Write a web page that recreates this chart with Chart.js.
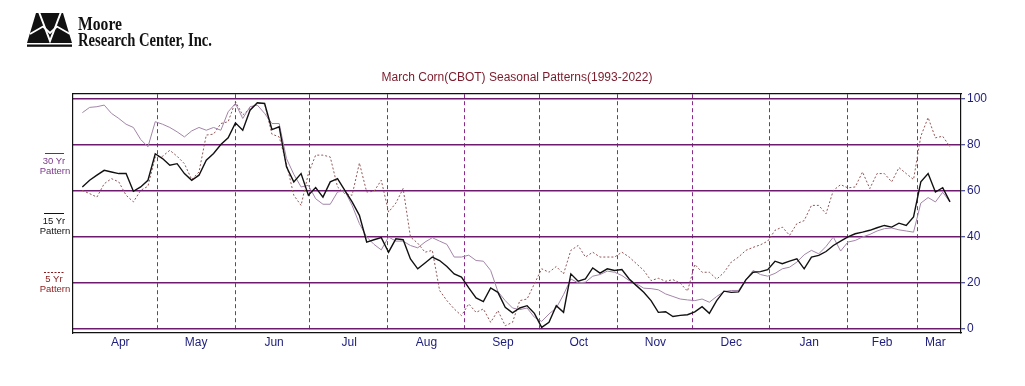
<!DOCTYPE html>
<html>
<head>
<meta charset="utf-8">
<title>March Corn(CBOT) Seasonal Patterns</title>
<script src="https://cdn.jsdelivr.net/npm/chart.js@4.4.1/dist/chart.umd.min.js"></script>
<style>
  body { margin: 0; background: #fff; }
  #page { position: relative; width: 1025px; height: 386px; overflow: hidden; }
  #chartBox { position: absolute; left: 0; top: 0; width: 1025px; height: 386px; }
  #overlay { position: absolute; left: 0; top: 0; pointer-events: none; }
</style>
</head>
<body>
<div id="page">
  <div id="chartBox"><canvas id="seasonalChart"></canvas></div>
  <svg id="overlay" width="1025" height="386" xmlns="http://www.w3.org/2000/svg">
    <!-- logo -->
    <polygon points="36,13 63,13 72,43 27,43" fill="#111"/>
    <rect x="27" y="44.5" width="45" height="2.3" fill="#111"/>
    <polyline points="39,12 50,41 61,12" fill="none" stroke="#fff" stroke-width="2"/>
    <polyline points="30,34 43,26.5 50,33 57,26.5 70,34" fill="none" stroke="#fff" stroke-width="1.8"/>
    <text x="78" y="30" font-family="Liberation Serif" font-weight="bold" font-size="18" fill="#111"
          textLength="44" lengthAdjust="spacingAndGlyphs">Moore</text>
    <text x="78" y="45.5" font-family="Liberation Serif" font-weight="bold" font-size="18" fill="#111"
          textLength="134" lengthAdjust="spacingAndGlyphs">Research Center, Inc.</text>

    <!-- left key -->
    <line x1="45" y1="153.5" x2="64" y2="153.5" stroke="#6a2a78" stroke-width="1"/>
    <text x="54" y="164" text-anchor="middle" font-family="Liberation Sans" font-size="9.5" fill="#7a3a8a">30 Yr</text>
    <text x="55" y="174" text-anchor="middle" font-family="Liberation Sans" font-size="9.5" fill="#7a3a8a">Pattern</text>

    <line x1="44" y1="213.5" x2="64" y2="213.5" stroke="#111" stroke-width="1"/>
    <text x="54" y="224" text-anchor="middle" font-family="Liberation Sans" font-size="9.5" fill="#111">15 Yr</text>
    <text x="55" y="234" text-anchor="middle" font-family="Liberation Sans" font-size="9.5" fill="#111">Pattern</text>

    <line x1="44" y1="272.5" x2="64" y2="272.5" stroke="#8b1a1a" stroke-width="1" stroke-dasharray="2,1.5"/>
    <text x="54" y="282" text-anchor="middle" font-family="Liberation Sans" font-size="9.5" fill="#8b1a1a">5 Yr</text>
    <text x="55" y="292" text-anchor="middle" font-family="Liberation Sans" font-size="9.5" fill="#8b1a1a">Pattern</text>
  </svg>
</div>

<script>
// month names on the bottom axis and where they sit (sample index units, 1 sample = 2 trading days)
const months = ['Apr', 'May', 'Jun', 'Jul', 'Aug', 'Sep', 'Oct', 'Nov', 'Dec', 'Jan', 'Feb', 'Mar'];
const monthLabelAt = [5.2, 15.6, 26.3, 36.6, 47.2, 57.7, 68.1, 78.6, 89.0, 99.7, 109.7, 117.0];
// first sample of each new month (dashed separators)
const monthBounds = [10.29, 20.99, 31.14, 41.90, 52.41, 62.70, 73.46, 83.69, 94.31, 104.95, 114.56];
const yTicks = [0, 20, 40, 60, 80, 100];

// seasonal index, 0..100
const yr30 = [93.8, 96.1, 96.4, 97.1, 93.5, 91.3, 88.8, 87.4, 82.2, 79.0,
              89.9, 88.8, 87.4, 85.5, 83.3, 85.9, 87.4, 86.2, 87.4, 86.2,
              94.2, 97.8, 91.3, 96.4, 97.1, 93.5, 89.1, 89.1, 73.9, 67.1,
              61.6, 62.3, 56.5, 54.1, 54.1, 59.4, 59.9, 53.6, 45.7, 39.9,
              36.7, 34.3, 39.9, 38.1, 38.1, 36.2, 35.2, 37.7, 39.6, 38.1,
              36.7, 31.2, 31.2, 32.0, 29.7, 29.4, 25.4, 16.2, 12.3, 9.1,
              8.4, 9.1, 5.1, 3.3, 6.5, 9.1, 14.9, 21.7, 20.0, 20.3,
              22.9, 23.6, 25.1, 24.6, 23.2, 21.0, 19.6, 17.7, 17.5, 17.0,
              15.2, 14.1, 13.0, 12.6, 12.3, 13.0, 11.6, 14.1, 16.2, 16.7,
              16.7, 21.3, 25.4, 23.6, 22.9, 24.1, 26.1, 26.8, 29.0, 32.2,
              34.1, 32.6, 35.8, 39.9, 33.8, 37.7, 38.4, 39.9, 41.0, 42.5,
              43.5, 43.8, 43.0, 42.5, 42.0, 54.6, 57.0, 55.1, 59.3, 55.1];

const yr15 = [61.6, 64.5, 66.7, 68.8, 68.1, 67.4, 67.4, 59.7, 61.6, 64.5,
              76.0, 73.9, 71.0, 71.7, 67.4, 64.5, 66.7, 73.2, 76.1, 80.0,
              82.9, 89.4, 86.2, 94.9, 98.1, 97.8, 86.5, 87.7, 70.3, 63.8,
              67.4, 58.0, 61.3, 57.2, 63.8, 65.2, 60.1, 55.1, 49.3, 37.7,
              38.7, 39.6, 33.3, 39.1, 38.7, 30.4, 26.1, 28.6, 31.2, 29.7,
              27.1, 23.9, 22.5, 17.8, 13.5, 11.9, 17.8, 15.9, 9.4, 7.0,
              9.1, 10.1, 6.8, 0.7, 2.9, 10.1, 7.2, 23.9, 20.7, 21.7,
              26.5, 24.2, 26.1, 25.4, 25.8, 21.7, 18.8, 15.9, 12.3, 7.2,
              7.5, 5.4, 5.9, 6.2, 7.4, 9.7, 6.8, 12.3, 16.4, 15.9,
              16.1, 21.3, 24.6, 24.9, 25.7, 29.4, 28.3, 29.4, 30.4, 26.1,
              31.2, 31.9, 33.6, 36.2, 38.1, 39.9, 41.3, 42.0, 42.8, 43.9,
              44.9, 44.2, 45.9, 44.9, 48.6, 63.8, 67.4, 59.4, 61.3, 55.1];

const yr5 = [60.1, 58.7, 57.2, 63.0, 65.2, 63.8, 58.0, 55.1, 60.1, 61.9,
             74.6, 74.9, 77.5, 74.9, 71.7, 64.8, 68.1, 84.1, 84.5, 89.1,
             89.9, 98.6, 92.8, 95.7, 97.8, 97.8, 84.5, 83.3, 71.7, 58.0,
             53.6, 67.4, 75.4, 75.4, 74.6, 61.6, 58.7, 58.0, 72.0, 59.4,
             59.7, 64.5, 50.7, 54.6, 60.9, 39.9, 37.2, 33.3, 34.1, 16.7,
             12.3, 8.7, 5.8, 10.9, 7.2, 8.7, 2.9, 8.0, 1.4, 2.9,
             12.3, 13.0, 19.6, 26.1, 24.6, 27.1, 23.9, 34.1, 36.2, 31.2,
             33.3, 31.2, 31.2, 31.2, 33.3, 31.2, 28.3, 25.4, 21.0, 22.0,
             20.7, 21.4, 19.9, 16.4, 28.0, 24.6, 24.6, 21.6, 24.5, 29.0,
             31.2, 34.1, 35.4, 36.5, 38.1, 42.8, 44.2, 40.6, 45.7, 47.0,
             53.6, 53.6, 50.0, 60.1, 62.6, 61.2, 61.6, 68.1, 60.9, 67.4,
             67.4, 63.8, 70.0, 67.4, 64.8, 83.6, 91.7, 82.9, 83.6, 79.0];

const toPoints = arr => arr.map((v, i) => ({ x: i, y: v }));

const gridPurple = '#6e1a6e';
const dashPurple = '#8a2a8a';
const navy = '#1c1c7c';
const xMin = -1.28, xMax = 120.51;

const ctx = document.getElementById('seasonalChart').getContext('2d');

new Chart(ctx, {
    type: 'line',
    data: {
        datasets: [
            {
                label: '15 Yr Pattern',
                data: toPoints(yr15),
                borderColor: '#111111',
                borderWidth: 1.4,
                pointRadius: 0,
                tension: 0
            },
            {
                label: '30 Yr Pattern',
                data: toPoints(yr30),
                borderColor: '#a384a9',
                borderWidth: 1,
                pointRadius: 0,
                tension: 0
            },
            {
                label: '5 Yr Pattern',
                data: toPoints(yr5),
                borderColor: '#935555',
                borderWidth: 1,
                borderDash: [2, 2],
                pointRadius: 0,
                tension: 0
            }
        ]
    },
    options: {
        responsive: true,
        maintainAspectRatio: false,
        animation: false,
        layout: {
            padding: { left: 73, right: 0, top: 0, bottom: 0 }
        },
        plugins: {
            legend: { display: false },
            tooltip: { enabled: false },
            title: {
                display: true,
                text: 'March Corn(CBOT) Seasonal Patterns(1993-2022)',
                color: '#7a1a2a',
                fullSize: false,
                font: { family: 'Liberation Sans', size: 12, weight: 'normal' },
                padding: { top: 70, bottom: 9 }
            }
        },
        scales: {
            x: {
                type: 'linear',
                position: 'bottom',
                min: xMin,
                max: xMax,
                afterBuildTicks: axis => { axis.ticks = monthLabelAt.map(v => ({ value: v })); },
                afterFit: axis => { axis.height = 53; },
                ticks: {
                    autoSkip: false,
                    maxRotation: 0,
                    padding: 2,
                    color: navy,
                    font: { family: 'Liberation Sans', size: 12 },
                    callback: (value, index) => months[index]
                },
                grid: { display: false, drawTicks: false },
                border: { display: true, color: '#111', width: 1.2 }
            },
            xm: {
                type: 'linear',
                position: 'top',
                min: xMin,
                max: xMax,
                afterBuildTicks: axis => { axis.ticks = monthBounds.map(v => ({ value: v })); },
                afterFit: axis => { axis.height = 0; },
                ticks: { display: false },
                grid: { display: true, drawTicks: false, color: dashPurple, lineWidth: 1 },
                border: { display: true, color: '#111', width: 1.2, dash: [4, 3] }
            },
            y: {
                type: 'linear',
                position: 'right',
                min: -1.74,
                max: 102.17,
                afterBuildTicks: axis => { axis.ticks = yTicks.map(v => ({ value: v })); },
                afterFit: axis => { axis.width = 64; },
                ticks: {
                    padding: 2,
                    color: navy,
                    font: { family: 'Liberation Sans', size: 12 }
                },
                grid: {
                    color: gridPurple,
                    lineWidth: 1.5,
                    drawTicks: true,
                    tickLength: 4,
                    tickColor: navy,
                    tickWidth: 1
                },
                border: { display: true, color: '#111', width: 1.2 }
            },
            yl: {
                type: 'linear',
                position: 'left',
                min: -1.74,
                max: 102.17,
                afterFit: axis => { axis.width = 0; },
                ticks: { display: false },
                grid: { display: false, drawTicks: false },
                border: { display: true, color: '#111', width: 1.2 }
            }
        }
    }
});
</script>
</body>
</html>
